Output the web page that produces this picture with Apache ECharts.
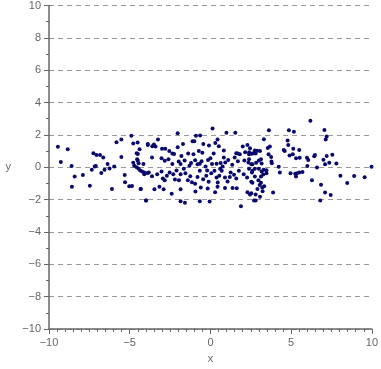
<!DOCTYPE html>
<html>
<head>
<meta charset="utf-8">
<script src="https://cdn.jsdelivr.net/npm/echarts@6/dist/echarts.min.js"></script>
<style>html,body{margin:0;padding:0;background:#fff}#c{width:381px;height:369px}</style>
</head>
<body>
<div id="c"></div>
<script>
const xTicks = [-10, -5, 0, 5, 10];
const yTicks = [-10, -8, -6, -4, -2, 0, 2, 4, 6, 8, 10];
const xs = [
-9.45,-9.27,-8.84,-8.6,-8.41,-8.58,-7.9,-7.47,-7.35,-7.25,-7.06,-6.84,-6.64,-7.17,-7.1,-6.76,-6.56,-6.37,-6.25,-6.1,-5.96,-5.82,-5.52,-5.52,-5.31,-5.29,-5.03,-4.86,-4.9,-4.78,-4.51,-4.57,-4.5,-4.39,-4.54,-4.5,-4.45,-4.78,-4.72,-4.57,-4.45,-4.35,-4.31,-4.15,-4.1,-4.1,-3.99,-3.9,-3.88,
0.13,-2.03,-0.9,-0.64,0.99,1.54,-3.25,-3.88,-3.5,-3.6,-3.4,-1.7,-1.11,-1.0,-0.44,-0.09,0.44,0.3,0.52,2.0,2.29,-3.0,-2.8,-2.55,-2.03,-2.36,-2.25,-1.38,-1.05,-0.72,0.83,1.6,1.7,1.82,2.15,2.4,2.75,
-3.62,-3.03,-2.83,-2.36,-1.97,-1.85,-1.6,-1.2,-0.95,-0.8,-0.66,-0.55,-0.15,0.0,0.1,0.38,0.63,0.83,0.92,1.5,1.7,2.1,2.35,2.6,2.8,
-4.23,-3.82,-3.62,-3.3,-3.03,-2.95,-2.83,-2.7,-2.53,-2.3,-2.2,-1.95,-1.85,-1.65,-1.55,-1.4,-1.25,-1.15,-0.95,-0.8,-0.66,-0.45,-0.26,-0.11,0.05,0.25,0.38,0.55,0.7,0.9,1.06,1.25,1.46,1.6,1.76,2.06,2.27,2.57,
-4.33,-3.47,-3.16,-2.9,-2.4,-1.85,-0.93,-0.17,0.29,0.44,0.9,1.37,1.63,2.29,2.53,2.8,-3.99,-1.85,-1.58,-0.66,-0.05,1.89,2.7,
6.19,3.62,4.86,5.17,7.06,7.2,7.14,3.31,4.78,4.82,3.55,3.68,4.54,4.6,5.13,5.5,2.89,3.07,2.45,2.39,2.56,2.65,3.6,3.76,4.9,5.1,5.3,5.53,5.98,6.06,6.43,6.47,7.2,7.55,7.0,7.1,7.36,7.8,
2.39,2.53,2.83,3.0,3.13,3.17,3.78,3.8,4.23,6.0,6.6,9.98,
2.39,2.6,2.75,3.0,3.3,3.47,3.47,3.17,3.27,2.75,3.13,4.3,4.96,5.25,5.35,5.5,5.7,5.3,8.05,8.9,9.55,6.29,8.47,
2.53,2.6,2.97,3.13,3.05,6.85,3.21,3.33,2.91,3.23,3.88,7.1,7.45,2.45,2.8,3.07,6.8,
-1.3,-0.3,0.6,-0.5,0.2,1.1,-2.1,1.2,-0.2,0.75,-1.8,1.35,-2.6,0.45,-0.6
];
const ys = [
1.26,0.32,1.12,0.07,-0.57,-1.2,-0.48,-1.14,-0.15,0.87,0.75,0.75,0.6,0.05,0.08,-0.36,-0.15,0.2,-0.07,-1.34,0.05,1.55,1.71,0.63,-0.48,-0.93,-1.18,-1.16,1.94,1.47,1.53,0.87,0.82,1.12,0.5,0.4,0.25,0.28,0.1,0.0,-0.1,-0.2,-1.34,0.2,-0.43,-0.33,-2.06,-0.35,1.38,
2.39,2.1,1.94,1.96,2.14,2.14,1.71,1.43,1.4,1.3,1.28,1.44,1.61,1.6,1.43,1.34,1.71,1.5,1.3,1.28,1.38,1.14,1.14,1.0,1.24,0.85,0.82,0.85,0.8,1.0,1.03,0.87,0.85,0.8,0.92,0.92,1.03,
0.6,0.55,0.4,0.2,0.35,0.2,0.42,0.27,0.44,0.18,0.22,0.37,0.45,0.55,0.2,0.22,0.27,0.6,0.3,0.6,0.37,0.42,0.3,0.18,0.85,
-0.26,-0.33,-0.55,-0.43,-0.26,-0.69,-0.8,-0.52,-0.33,-0.43,-0.76,-0.8,-0.43,-0.1,-0.37,-0.8,-0.55,-0.92,-1.02,-0.6,-0.22,-0.74,-0.53,-0.9,-0.37,-0.22,-0.63,-0.53,-0.22,-0.63,-0.88,-0.33,-0.47,-0.69,-0.22,-0.43,-0.63,-0.33,
-1.34,-1.36,-1.2,-1.36,-1.64,-1.36,-1.5,-1.32,-1.54,-1.2,-1.28,-1.28,-1.3,-1.54,-1.6,-1.68,-2.06,-2.1,-2.2,-2.1,-2.12,-2.41,-2.06,
2.88,2.29,2.29,2.2,2.31,1.9,1.71,1.73,1.65,1.37,1.19,1.28,1.06,1.0,1.14,1.06,1.02,1.0,1.18,0.8,0.84,0.86,0.8,0.63,0.72,0.8,0.56,0.58,0.58,0.45,0.68,0.76,0.7,0.78,0.47,0.18,0.28,0.23,
0.5,0.18,0.28,0.42,0.5,0.23,0.35,0.25,0.03,0.08,-0.01,0.03,
-0.1,-0.22,-0.1,-0.1,-0.15,-0.37,-0.19,-0.27,-0.45,-0.57,-0.57,-0.33,-0.37,-0.4,-0.37,-0.33,-0.29,-0.57,-0.52,-0.54,-0.62,-0.8,-0.97,
-0.9,-0.96,-0.8,-0.96,-1.1,-1.08,-1.25,-1.17,-1.34,-1.48,-1.56,-1.56,-1.72,-1.68,-2.06,-1.83,-2.06,
0.1,0.05,-0.1,0.9,0.85,0.45,-0.2,-0.6,-0.2,0.05,0.7,0.15,0.5,-0.95,-1.25
];
const points = xs.map((x, i) => [x, ys[i]]);
const fmt = v => String(v).replace('-', '\u2212');
const chart = echarts.init(document.getElementById('c'));
const labelStyle = {color: '#666', fontSize: 11, fontFamily: 'Liberation Sans, Arial, sans-serif'};
chart.setOption({
  animation: false,
  grid: {left: 49, right: 5, top: 4, bottom: 40, containLabel: false},
  xAxis: {
    type: 'value', min: xTicks[0], max: xTicks[xTicks.length - 1], interval: 5,
    name: 'x', nameLocation: 'middle', nameGap: 24,
    nameTextStyle: {color: '#666', fontSize: 11, fontFamily: 'Liberation Sans, Arial, sans-serif'},
    axisLine: {onZero: false, lineStyle: {color: '#666', width: 1.5}},
    axisTick: {show: true, length: 5, lineStyle: {color: '#666'}},
    minorTick: {show: true, splitNumber: 10, length: 3, lineStyle: {color: '#666'}},
    axisLabel: Object.assign({formatter: fmt, margin: 8, showMaxLabel: true}, labelStyle),
    splitLine: {show: false}
  },
  yAxis: {
    type: 'value', min: yTicks[0], max: yTicks[yTicks.length - 1], interval: 2,
    name: 'y', nameLocation: 'middle', nameGap: 38, nameRotate: 0,
    nameTextStyle: {color: '#666', fontSize: 11, fontFamily: 'Liberation Sans, Arial, sans-serif'},
    axisLine: {show: true, onZero: false, lineStyle: {color: '#666', width: 1.5}},
    axisTick: {show: true, length: 5, lineStyle: {color: '#666'}},
    minorTick: {show: true, splitNumber: 2, length: 3, lineStyle: {color: '#666'}},
    axisLabel: Object.assign({formatter: fmt, margin: 8}, labelStyle),
    splitLine: {show: true, lineStyle: {color: '#999', type: [5, 4], width: 1}}
  },
  series: [{
    type: 'scatter',
    data: points,
    symbolSize: 4,
    itemStyle: {color: '#0a0a6e', opacity: 1}
  }]
});
</script>
</body>
</html>
